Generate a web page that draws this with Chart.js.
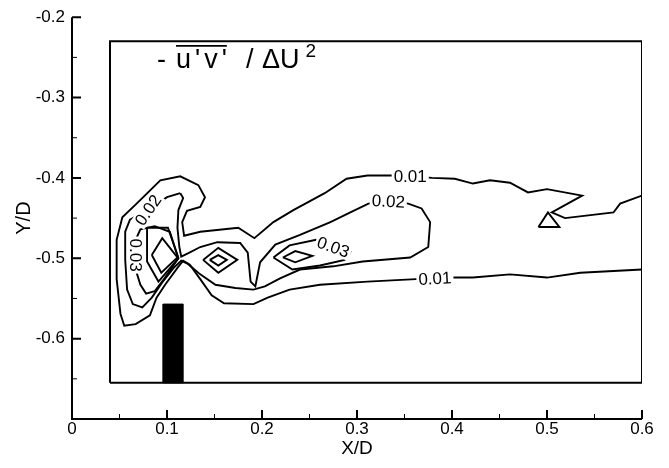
<!DOCTYPE html>
<html>
<head>
<meta charset="utf-8">
<script src="https://cdn.jsdelivr.net/npm/chart.js@4.4.1/dist/chart.umd.min.js"></script>
<style>
  html, body { margin: 0; padding: 0; background: #fff; }
  #wrap { width: 669px; height: 468px; }
</style>
</head>
<body>
<div id="wrap"><canvas id="stressChart" width="669" height="468"></canvas></div>
<script>
// axis ticks
var xTicks = [0, 0.1, 0.2, 0.3, 0.4, 0.5, 0.6];
var yTicks = [-0.6, -0.5, -0.4, -0.3, -0.2];
var xMinor = [0.05, 0.15, 0.25, 0.35, 0.45, 0.55];
var yMinor = [-0.65, -0.55, -0.45, -0.35, -0.25];

// measurement window and the step
var frameX = [0.04, 0.6, 0.6, 0.04, 0.04];
var frameY = [-0.655, -0.655, -0.23, -0.23, -0.655];
var stepX = [0.096, 0.117, 0.117, 0.096, 0.096];
var stepY = [-0.655, -0.655, -0.557, -0.557, -0.655];

// contour lines, [x/D, y/D]
var lvl001 = [
  [0.600,-0.422],[0.577,-0.432],[0.570,-0.443],[0.519,-0.450],[0.505,-0.443],[0.537,-0.422],
  [0.500,-0.414],[0.480,-0.418],[0.461,-0.406],[0.440,-0.403],[0.422,-0.407],[0.403,-0.401],
  [0.379,-0.400],[0.356,-0.398],[0.337,-0.397],[0.311,-0.397],[0.289,-0.401],[0.266,-0.419],
  [0.233,-0.440],[0.212,-0.455],[0.192,-0.475],[0.175,-0.462],[0.135,-0.467],[0.118,-0.472],
  [0.116,-0.455],[0.121,-0.441],[0.135,-0.436],[0.140,-0.424],[0.133,-0.409],[0.114,-0.398],
  [0.093,-0.403],[0.068,-0.432],[0.053,-0.449],[0.047,-0.477],[0.047,-0.526],[0.051,-0.569],
  [0.055,-0.584],[0.067,-0.582],[0.082,-0.571],[0.089,-0.549],[0.098,-0.533],[0.111,-0.512],
  [0.117,-0.503],[0.124,-0.508],[0.135,-0.526],[0.147,-0.546],[0.160,-0.556],[0.191,-0.557],
  [0.206,-0.549],[0.229,-0.539],[0.261,-0.533],[0.311,-0.529],[0.362,-0.526],[0.382,-0.525],
  [0.403,-0.524],[0.422,-0.524],[0.461,-0.520],[0.500,-0.524],[0.535,-0.518],[0.600,-0.514]
];
var lvl001b = [[0.491,-0.461],[0.501,-0.443],[0.513,-0.461],[0.491,-0.461]];
var lvl002 = [
  [0.114,-0.419],[0.100,-0.424],[0.080,-0.440],[0.061,-0.452],[0.056,-0.467],[0.056,-0.502],
  [0.058,-0.539],[0.064,-0.557],[0.074,-0.561],[0.084,-0.549],[0.095,-0.530],[0.107,-0.512],
  [0.115,-0.503],[0.122,-0.507],[0.135,-0.520],[0.151,-0.533],[0.172,-0.537],[0.191,-0.539],
  [0.203,-0.535],[0.219,-0.525],[0.240,-0.514],[0.275,-0.510],[0.306,-0.504],[0.356,-0.499],
  [0.375,-0.486],[0.377,-0.455],[0.368,-0.438],[0.354,-0.432],[0.333,-0.429],[0.312,-0.432],
  [0.293,-0.443],[0.272,-0.455],[0.240,-0.471],[0.214,-0.483],[0.198,-0.505],[0.193,-0.535],
  [0.188,-0.529],[0.185,-0.493],[0.177,-0.481],[0.153,-0.480],[0.135,-0.486],[0.122,-0.494],
  [0.115,-0.498],[0.113,-0.486],[0.111,-0.462],[0.112,-0.440],[0.117,-0.425],[0.114,-0.419]
];
var lvl003a = [
  [0.112,-0.500],[0.103,-0.467],[0.087,-0.460],[0.072,-0.464],[0.067,-0.477],[0.067,-0.514],
  [0.072,-0.533],[0.078,-0.544],[0.087,-0.541],[0.098,-0.524],[0.112,-0.500]
];
var lvl003b = [[0.138,-0.502],[0.154,-0.487],[0.174,-0.502],[0.154,-0.518],[0.138,-0.502]];
var lvl003c = [
  [0.212,-0.499],[0.229,-0.484],[0.257,-0.477],[0.277,-0.483],[0.293,-0.492],[0.287,-0.502],
  [0.261,-0.509],[0.232,-0.514],[0.212,-0.499]
];
var lvl004a = [[0.079,-0.462],[0.101,-0.462],[0.112,-0.500],[0.091,-0.529],[0.079,-0.504],[0.079,-0.462]];
var lvl004b = [[0.145,-0.502],[0.154,-0.496],[0.163,-0.502],[0.154,-0.509],[0.145,-0.502]];
var lvl004c = [[0.222,-0.499],[0.235,-0.491],[0.253,-0.497],[0.235,-0.505],[0.222,-0.499]];
var lvl005a = [[0.084,-0.496],[0.095,-0.475],[0.111,-0.499],[0.094,-0.518],[0.084,-0.496]];

// in-line level labels
var labelText  = ['0.01', '0.01', '0.02', '0.02', '0.03', '0.03'];
var labelX     = [0.356, 0.382, 0.333, 0.080, 0.275, 0.067];
var labelY     = [-0.398, -0.525, -0.429, -0.440, -0.486, -0.496];
var labelAngle = [0, -3, 3, -55, 20, 90];

var FONT = '"Liberation Sans", Arial, sans-serif';

function toPts(arr) {
  return arr.map(function (p) { return { x: p[0], y: p[1] }; });
}
function pair(xs, ys) {
  return xs.map(function (v, i) { return { x: v, y: ys[i] }; });
}

var contours = [lvl001, lvl001b, lvl002, lvl003a, lvl003b, lvl003c, lvl004a, lvl004b, lvl004c, lvl005a];

var datasets = contours.map(function (c) {
  return {
    data: toPts(c), showLine: true, pointRadius: 0, borderColor: '#000',
    borderWidth: 1.9, tension: 0, fill: false
  };
});
datasets.push({
  data: pair(frameX, frameY), showLine: true, pointRadius: 0, borderColor: '#000',
  borderWidth: 2, tension: 0, fill: false
});
datasets.push({
  data: pair(stepX, stepY), showLine: true, pointRadius: 0, borderColor: '#000',
  borderWidth: 1, backgroundColor: '#000', tension: 0, fill: 'shape'
});

var decor = {
  id: 'decor',
  afterDatasetsDraw: function (chart) {
    var ctx = chart.ctx, xs = chart.scales.x, ys = chart.scales.y;
    ctx.save();
    ctx.font = '17px ' + FONT;
    ctx.textAlign = 'center';
    ctx.textBaseline = 'middle';
    for (var i = 0; i < labelText.length; i++) {
      var px = xs.getPixelForValue(labelX[i]);
      var py = ys.getPixelForValue(labelY[i]);
      var w = ctx.measureText(labelText[i]).width;
      ctx.save();
      ctx.translate(px, py);
      ctx.rotate(labelAngle[i] * Math.PI / 180);
      ctx.fillStyle = '#fff';
      ctx.fillRect(-w / 2 - 2, -8, w + 4, 16);
      ctx.fillStyle = '#000';
      ctx.fillText(labelText[i], 0, 1);
      ctx.restore();
    }
    ctx.restore();

    // quantity label: - u'v' / ΔU^2
    var tx = xs.getPixelForValue(0.0895);
    var ty = ys.getPixelForValue(-0.263);
    ctx.save();
    ctx.fillStyle = '#000';
    ctx.strokeStyle = '#000';
    ctx.textBaseline = 'alphabetic';
    ctx.textAlign = 'left';
    ctx.font = '27px ' + FONT;
    ctx.fillText('-', tx, ty);
    ctx.letterSpacing = '4px';
    var uvX = tx + 19;
    ctx.fillText("u'v'", uvX, ty);
    var uvW = ctx.measureText("u'v'").width - 4;
    ctx.letterSpacing = '0px';
    ctx.lineWidth = 1.7;
    ctx.beginPath();
    ctx.moveTo(uvX, ty - 22);
    ctx.lineTo(uvX + uvW, ty - 22);
    ctx.stroke();
    ctx.fillText('/', tx + 89, ty);
    ctx.fillText('\u0394U', tx + 105, ty);
    var duW = ctx.measureText('\u0394U').width;
    ctx.font = '19px ' + FONT;
    ctx.fillText('2', tx + 105 + duW + 6, ty - 11);
    ctx.restore();
  },
  afterDraw: function (chart) {
    var ctx = chart.ctx, xs = chart.scales.x, ys = chart.scales.y;
    var a = chart.chartArea;
    ctx.save();
    ctx.strokeStyle = '#000';
    ctx.lineWidth = 2;
    ctx.beginPath();
    ctx.moveTo(a.left, a.top);
    ctx.lineTo(a.left, a.bottom);
    ctx.lineTo(a.right, a.bottom);
    ctx.stroke();
    ctx.beginPath();
    xTicks.forEach(function (v) {
      var p = xs.getPixelForValue(v);
      ctx.moveTo(p, a.bottom); ctx.lineTo(p, a.bottom - 9);
    });
    yTicks.forEach(function (v) {
      var p = ys.getPixelForValue(v);
      ctx.moveTo(a.left, p); ctx.lineTo(a.left + 9, p);
    });
    ctx.stroke();
    ctx.lineWidth = 1;
    ctx.beginPath();
    xMinor.forEach(function (v) {
      var p = xs.getPixelForValue(v);
      ctx.moveTo(p, a.bottom); ctx.lineTo(p, a.bottom - 5);
    });
    yMinor.forEach(function (v) {
      var p = ys.getPixelForValue(v);
      ctx.moveTo(a.left, p); ctx.lineTo(a.left + 5, p);
    });
    ctx.stroke();
    ctx.restore();
  }
};

new Chart(document.getElementById('stressChart'), {
  type: 'scatter',
  data: { datasets: datasets },
  options: {
    responsive: false,
    animation: false,
    devicePixelRatio: 1,
    layout: { padding: { left: 0, right: 27, top: 15, bottom: 0 } },
    plugins: { legend: { display: false }, tooltip: { enabled: false } },
    scales: {
      x: {
        type: 'linear', min: 0, max: 0.6,
        grid: { display: false, drawTicks: false },
        border: { display: false },
        afterBuildTicks: function (s) { s.ticks = xTicks.map(function (v) { return { value: v }; }); },
        afterFit: function (s) { s.height = 49; },
        ticks: {
          color: '#000', padding: 0, maxRotation: 0,
          font: { family: FONT, size: 17 },
          callback: function (v) { return v === 0 ? '0' : v.toFixed(1); }
        },
        title: {
          display: true, text: 'X/D', color: '#000',
          font: { family: FONT, size: 19 }, padding: { top: 0, bottom: 8 }
        }
      },
      y: {
        type: 'linear', min: -0.7, max: -0.2,
        grid: { display: false, drawTicks: false },
        border: { display: false },
        afterBuildTicks: function (s) { s.ticks = yTicks.map(function (v) { return { value: v }; }); },
        afterFit: function (s) { s.width = 72; },
        ticks: {
          color: '#000', padding: 7,
          font: { family: FONT, size: 17 },
          callback: function (v) { return v.toFixed(1); }
        },
        title: {
          display: true, text: 'Y/D', color: '#000',
          font: { family: FONT, size: 20 }, padding: { top: 12, bottom: 0 }
        }
      }
    }
  },
  plugins: [decor]
});
</script>
</body>
</html>
